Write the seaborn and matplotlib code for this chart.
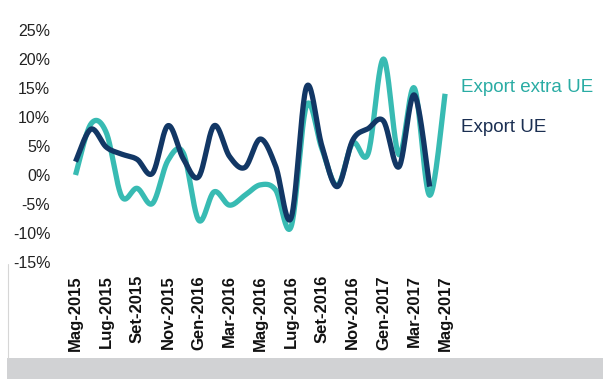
import numpy as np
import pandas as pd
import matplotlib
matplotlib.use("Agg")
import matplotlib.pyplot as plt
import seaborn as sns
from matplotlib.patches import Rectangle
from matplotlib.lines import Line2D

# ---- data ----
months = ["Mag-2015", "Giu-2015", "Lug-2015", "Ago-2015", "Set-2015", "Ott-2015",
          "Nov-2015", "Dic-2015", "Gen-2016", "Feb-2016", "Mar-2016", "Apr-2016",
          "Mag-2016", "Giu-2016", "Lug-2016", "Ago-2016", "Set-2016", "Ott-2016",
          "Nov-2016", "Dic-2016", "Gen-2017", "Feb-2017", "Mar-2017", "Apr-2017",
          "Mag-2017"]
tick_labels = months[::2]
export_extra_ue = [0.0, 8.8, 7.3, -3.7, -2.3, -4.9, 2.5, 3.8, -7.8, -2.9, -5.2, -3.5,
                   -1.7, -2.6, -8.9, 12.0, 4.5, -1.8, 5.5, 3.7, 20.0, 3.5, 15.0, -3.5,
                   14.0]
export_ue = [2.3, 7.9, 4.8, 3.6, 2.7, 0.3, 8.5, 2.8, -0.3, 8.5, 3.2, 1.3,
             6.2, 1.5, -7.4, 15.2, 5.0, -2.0, 6.0, 8.0, 9.3, 1.4, 13.8, -2.0,
             np.nan]
series_names = ["Export extra UE", "Export UE"]
yticks = [-15, -10, -5, 0, 5, 10, 15, 20, 25]

TEAL = "#38bbb3"
NAVY = "#123765"


def smooth(values, n=24):
    """Catmull-Rom smoothing (like a spreadsheet 'smoothed line')."""
    y = np.array([v for v in values if not np.isnan(v)], dtype=float)
    x = np.arange(len(y), dtype=float)
    P = np.column_stack([x, y])
    out = []
    for i in range(len(P) - 1):
        p0 = P[i - 1] if i > 0 else P[i]
        p1, p2 = P[i], P[i + 1]
        p3 = P[i + 2] if i + 2 < len(P) else P[i + 1]
        t = np.linspace(0, 1, n, endpoint=False)[:, None]
        seg = 0.5 * ((2 * p1) + (-p0 + p2) * t +
                     (2 * p0 - 5 * p1 + 4 * p2 - p3) * t ** 2 +
                     (-p0 + 3 * p1 - 3 * p2 + p3) * t ** 3)
        out.append(seg)
    out.append(P[-1:])
    out = np.vstack(out)
    return out[:, 0], out[:, 1]


sns.set_theme(style="white")
plt.rcParams["font.family"] = ["Liberation Sans", "DejaVu Sans"]

W, H = 603, 379
fig = plt.figure(figsize=(W / 100, H / 100), dpi=100)
fig.patch.set_facecolor("white")

ax_left, ax_right, ax_top, ax_bot = 60, 460, 30, 262
ax = fig.add_axes([ax_left / W, 1 - ax_bot / H, (ax_right - ax_left) / W,
                   (ax_bot - ax_top) / H])
ax.set_facecolor("white")

for name, vals, col in [(series_names[0], export_extra_ue, TEAL),
                        (series_names[1], export_ue, NAVY)]:
    sx, sy = smooth(vals)
    df = pd.DataFrame({"x": sx, "y": sy})
    sns.lineplot(data=df, x="x", y="y", sort=False, estimator=None, color=col,
                 lw=3.8, ax=ax, solid_capstyle="butt")

px_per_month = 15.4
x0 = 75.5
ax.set_xlim((ax_left - x0) / px_per_month, (ax_right - x0) / px_per_month)
ax.set_ylim(-15, 25)

ax.set_xticks(np.arange(0, len(months), 2))
ax.set_xticklabels(tick_labels, rotation=90, fontsize=12, fontweight="bold",
                   color="#111111")
ax.set_yticks(yticks)
ax.set_yticklabels([f"{v}%" for v in yticks], fontsize=11.5, color="#222222")
ax.tick_params(axis="x", length=0, pad=9.4)
ax.tick_params(axis="y", length=0, pad=7)
ax.set_xlabel("")
ax.set_ylabel("")
ax.grid(False)
for s in ax.spines.values():
    s.set_visible(False)

# series labels on the right
fig.text(461 / W, 1 - 88 / H, series_names[0], color="#2aaca4", fontsize=13.5,
         va="center", ha="left")
fig.text(461 / W, 1 - 128 / H, series_names[1], color="#1b2f52", fontsize=13.5,
         va="center", ha="left")

# bottom grey band and faint frame line
fig.patches.append(Rectangle((7 / W, 0), 1 - 7 / W, 21 / H, transform=fig.transFigure,
                             facecolor="#d1d2d4", edgecolor="none", zorder=0))
fig.lines.append(Line2D([7.5 / W, 7.5 / W], [21 / H, 1 - 264 / H],
                        transform=fig.transFigure, color="#d6d6d6", lw=0.8))

fig.savefig("out.png", dpi=100, facecolor="white")
